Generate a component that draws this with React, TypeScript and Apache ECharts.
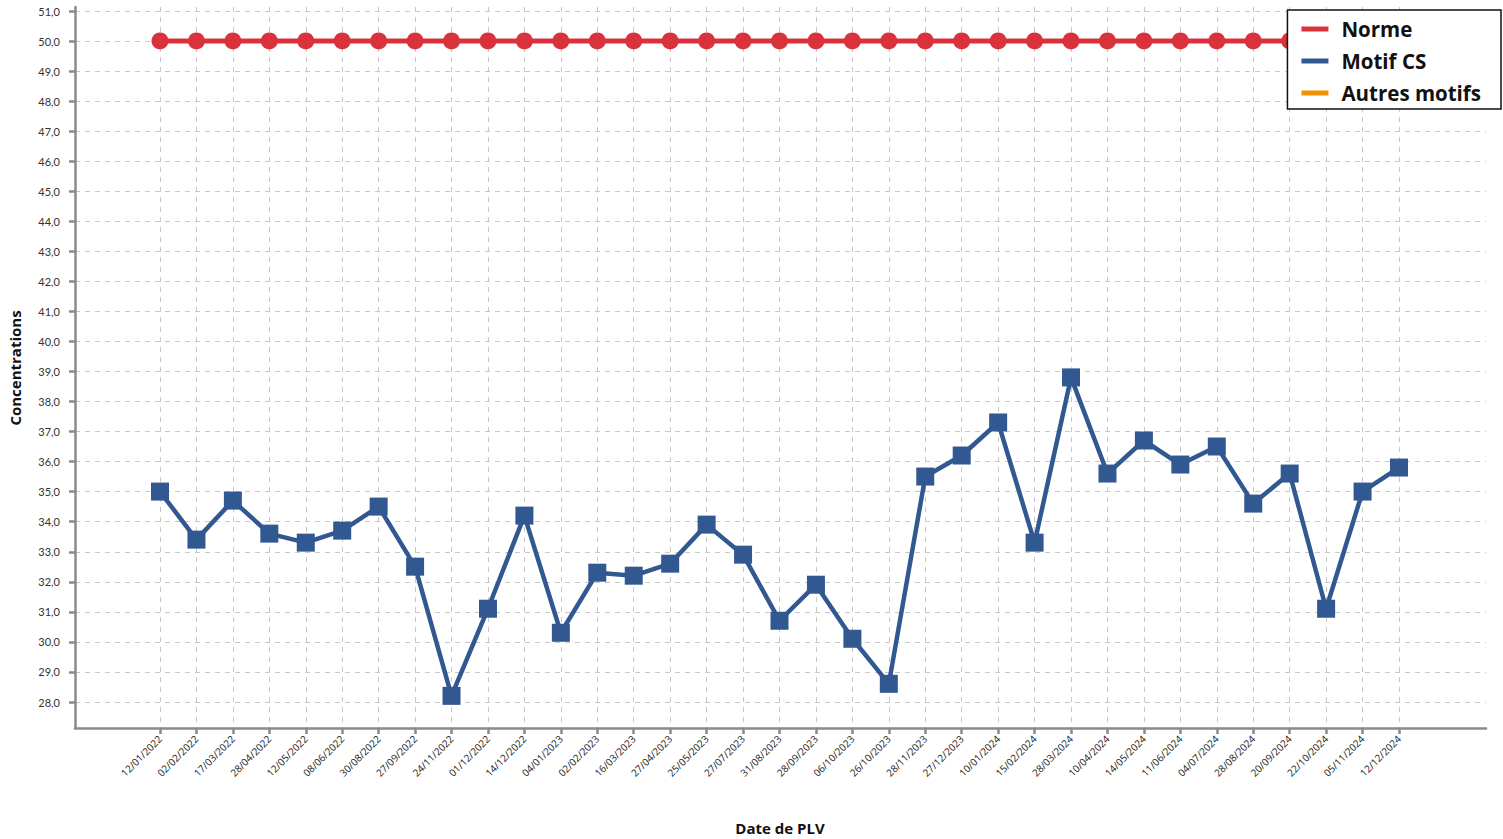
import React, { useEffect, useRef } from "react";
import * as echarts from "echarts";

const dates = [
  "12/01/2022", "02/02/2022", "17/03/2022", "28/04/2022", "12/05/2022", "08/06/2022",
  "30/08/2022", "27/09/2022", "24/11/2022", "01/12/2022", "14/12/2022",
  "04/01/2023", "02/02/2023", "16/03/2023", "27/04/2023", "25/05/2023", "27/07/2023",
  "31/08/2023", "28/09/2023", "06/10/2023", "26/10/2023", "28/11/2023", "27/12/2023",
  "10/01/2024", "15/02/2024", "28/03/2024", "10/04/2024", "14/05/2024", "11/06/2024",
  "04/07/2024", "28/08/2024", "20/09/2024", "22/10/2024", "05/11/2024", "12/12/2024",
];

const motifCS = [
  35.0, 33.4, 34.7, 33.6, 33.3, 33.7, 34.5, 32.5, 28.2, 31.1, 34.2,
  30.3, 32.3, 32.2, 32.6, 33.9, 32.9, 30.7, 31.9, 30.1, 28.6, 35.5, 36.2,
  37.3, 33.3, 38.8, 35.6, 36.7, 35.9, 36.5, 34.6, 35.6, 31.1, 35.0, 35.8,
];

const norme = dates.map(() => 50);
const autresMotifs: number[] = [];

const seriesNames = ["Norme", "Motif CS", "Autres motifs"];
const colors = ["#d9323c", "#325891", "#f39200"];

export default function App() {
  const ref = useRef<HTMLDivElement>(null);

  useEffect(() => {
    document.body.style.margin = "0";
    const chart = echarts.init(ref.current!, null, { renderer: "svg" });
    const gridColor = "#c8c8c8";
    const axisColor = "#8a8a8a";
    chart.setOption({
      animation: false,
      backgroundColor: "#ffffff",
      grid: [
        { left: 75, right: 17, top: 7, bottom: 111 },
        { left: 160, right: 104, top: 7, bottom: 111 },
        { left: 75, right: 17, top: 11, bottom: 137 },
      ],
      xAxis: [
        {
          gridIndex: 0, type: "value", min: 0, max: 1,
          axisLine: { show: true, onZero: false, lineStyle: { color: axisColor, width: 2.5 } },
          axisTick: { show: false }, axisLabel: { show: false }, splitLine: { show: false },
        },
        {
          gridIndex: 1, type: "category", data: dates, boundaryGap: false,
          axisLine: { show: false },
          axisTick: { show: true, interval: 0, length: 6, lineStyle: { color: axisColor, width: 2.5 } },
          axisLabel: {
            interval: 0, rotate: 45, fontSize: 10, color: "#222222", margin: 9,
            fontFamily: "Open Sans",
          },
          splitLine: { show: true, interval: 0, lineStyle: { color: gridColor, type: [5, 5], width: 1 } },
        },
        {
          gridIndex: 2, type: "value", min: 0, max: 1, show: false,
        },
      ],
      yAxis: [
        {
          gridIndex: 0, type: "value", min: 0, max: 1,
          axisLine: { show: true, onZero: false, lineStyle: { color: axisColor, width: 2.5 } },
          axisTick: { show: false }, axisLabel: { show: false }, splitLine: { show: false },
        },
        {
          gridIndex: 1, type: "value", min: 27.13, max: 51.13, show: false,
          splitLine: { show: false },
        },
        {
          gridIndex: 2, type: "value", min: 28, max: 51, interval: 1,
          axisLine: { show: false },
          axisTick: { show: true, length: 6, lineStyle: { color: axisColor, width: 2.5 } },
          axisLabel: {
            fontSize: 11, color: "#333333", margin: 15, fontFamily: "Lato",
            formatter: (v: number) => v.toFixed(1).replace(".", ","),
          },
          splitLine: { show: true, lineStyle: { color: gridColor, type: [5, 5], width: 1 } },
        },
      ],
      legend: {
        orient: "vertical",
        right: 2,
        top: 10,
        backgroundColor: "#ffffff",
        borderColor: "#111111",
        borderWidth: 1.5,
        borderRadius: 0,
        padding: [8, 20, 5, 14],
        itemGap: 10,
        itemWidth: 27,
        itemHeight: 5,
        icon: "rect",
        textStyle: { fontSize: 20.5, fontWeight: "bold", color: "#111111", fontFamily: "Open Sans", lineHeight: 22, padding: [0, 0, 0, 8] },
        data: seriesNames,
      },
      graphic: [
        {
          type: "text", x: 15, y: 368, rotation: Math.PI / 2,
          style: {
            text: "Concentrations", font: "bold 15px 'Open Sans'", fill: "#111111",
            textAlign: "center", textVerticalAlign: "middle",
          },
        },
        {
          type: "text", x: 780, y: 828,
          style: {
            text: "Date de PLV", font: "bold 15px 'Open Sans'", fill: "#111111",
            textAlign: "center", textVerticalAlign: "middle",
          },
        },
      ],
      series: [
        {
          name: seriesNames[0], type: "line", xAxisIndex: 1, yAxisIndex: 1,
          data: norme, symbol: "circle", symbolSize: 17,
          lineStyle: { color: colors[0], width: 5 },
          itemStyle: { color: colors[0] }, z: 3,
        },
        {
          name: seriesNames[1], type: "line", xAxisIndex: 1, yAxisIndex: 1,
          data: motifCS, symbol: "rect", symbolSize: 18,
          lineStyle: { color: colors[1], width: 4.5 },
          itemStyle: { color: colors[1] }, z: 4,
        },
        {
          name: seriesNames[2], type: "line", xAxisIndex: 1, yAxisIndex: 1,
          data: autresMotifs, symbol: "none",
          lineStyle: { color: colors[2], width: 4.5 },
          itemStyle: { color: colors[2] },
        },
      ],
    });
    return () => chart.dispose();
  }, []);

  return <div ref={ref} style={{ width: 1503, height: 839 }} />;
}
